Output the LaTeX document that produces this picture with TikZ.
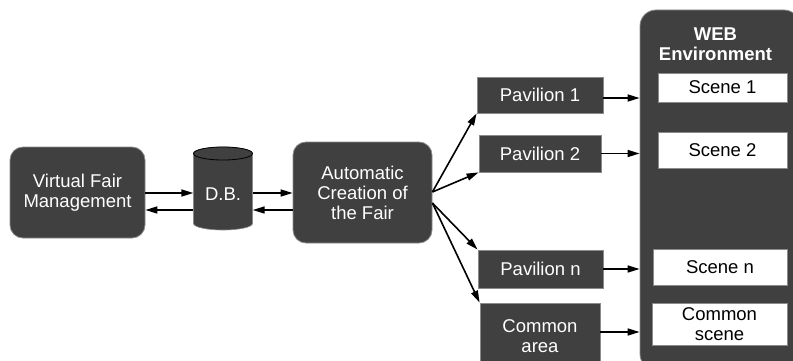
\documentclass[tikz,border=0pt]{standalone}
\usepackage{fontspec}
\setmainfont{Liberation Sans}
\usetikzlibrary{arrows.meta,calc}
\definecolor{boxgray}{HTML}{404040}
\definecolor{edgegray}{HTML}{8A8A8A}
\begin{document}
\begin{tikzpicture}[x=1pt,y=-1pt,
  darkbox/.style={draw=edgegray,line width=0.8pt,fill=boxgray,text=white,align=center,inner sep=0pt,
    font=\fontsize{18.5}{20}\selectfont},
  roundbox/.style={darkbox,rounded corners=13pt},
  scenebox/.style={draw=edgegray,line width=0.6pt,fill=white,text=black,align=center,inner sep=0pt,
    font=\fontsize{18.5}{20}\selectfont},
  arr/.style={line width=1.6pt,-{Triangle[length=12pt,width=7pt]}}]
\useasboundingbox (0,0) rectangle (793,361);
% WEB environment container
\node[roundbox,rounded corners=16pt,minimum width=160pt,minimum height=360pt] (web) at (720,190) {};
\node[text=white,align=center,inner sep=0pt,font=\bfseries\fontsize{18.5}{20}\selectfont] (webl) at (715.5,44) {WEB\\Environment};
% left boxes
\node[roundbox,minimum width=135pt,minimum height=91pt] (vfm) at (77.5,192.5) {Virtual Fair\\Management};
% database cylinder
\fill[boxgray,draw=edgegray,line width=0.6pt] (193.5,153.5) -- (193.5,223.5) arc[start angle=180,end angle=360,x radius=29.5pt,y radius=6.5pt] -- (252.5,153.5) arc[start angle=0,end angle=180,x radius=29.5pt,y radius=6.5pt] -- cycle;
\draw[black,line width=0.8pt,fill=boxgray] (223,153.5) ellipse[x radius=29.5pt,y radius=6.5pt];
\node[inner sep=0pt,minimum width=59pt,minimum height=70pt,text=white,font=\fontsize{18.5}{20}\selectfont] (db) at (223,194) {D.B.};
\node[roundbox,minimum width=139pt,minimum height=101pt] (auto) at (362.5,192.5) {Automatic\\Creation of\\the Fair};
% pavilions
\node[darkbox,minimum width=126pt,minimum height=36pt] (p1) at (540,95) {Pavilion 1};
\node[darkbox,minimum width=122pt,minimum height=37pt] (p2) at (540,153.5) {Pavilion 2};
\node[darkbox,minimum width=125pt,minimum height=38pt] (pn) at (540.5,269) {Pavilion n};
\node[darkbox,minimum width=120pt,minimum height=67pt] (pc) at (540,336.5) {Common\\area};
% scenes
\node[scenebox,minimum width=129pt,minimum height=29pt] (s1) at (722.5,87.5) {Scene 1};
\node[scenebox,minimum width=129pt,minimum height=36pt] (s2) at (722.5,150) {Scene 2};
\node[scenebox,minimum width=134pt,minimum height=36pt] (sn) at (720,267) {Scene n};
\node[scenebox,minimum width=135pt,minimum height=42pt] (sc) at (719.5,324) {Common\\scene};
% connectors
\coordinate (vfmA) at ($(vfm.east)+(0,0.5)$);
\coordinate (vfmB) at ($(vfm.east)+(0,17.5)$);
\draw[arr] (vfmA) -- (vfmA -| db.west);
\draw[arr] (vfmB -| db.west) -- (vfmB);
\draw[arr] (vfmA -| db.east) -- (vfmA -| auto.west);
\draw[arr] (vfmB -| auto.west) -- (vfmB -| db.east);
\coordinate (aUp) at ($(auto.east)+(0,-0.5)$);
\coordinate (aDn) at ($(auto.east)+(0,10.5)$);
\draw[arr] (aUp) -- (p1.south west);
\draw[arr] (aUp) -- (p2.south west);
\draw[arr] (aDn) -- (pn.north west);
\draw[arr] (aDn) -- (pc.north west);
\draw[arr] ($(p1.east)+(0,3)$) -- ($(p1.east -| web.west)+(0,3)$);
\draw[arr] (p2.east) -- (p2.east -| web.west);
\draw[arr] (pn.east) -- (pn.east -| web.west);
\draw[arr] ($(pc.east)+(0,-4.5)$) -- ($(pc.east -| web.west)+(0,-4.5)$);
\end{tikzpicture}
\end{document}
